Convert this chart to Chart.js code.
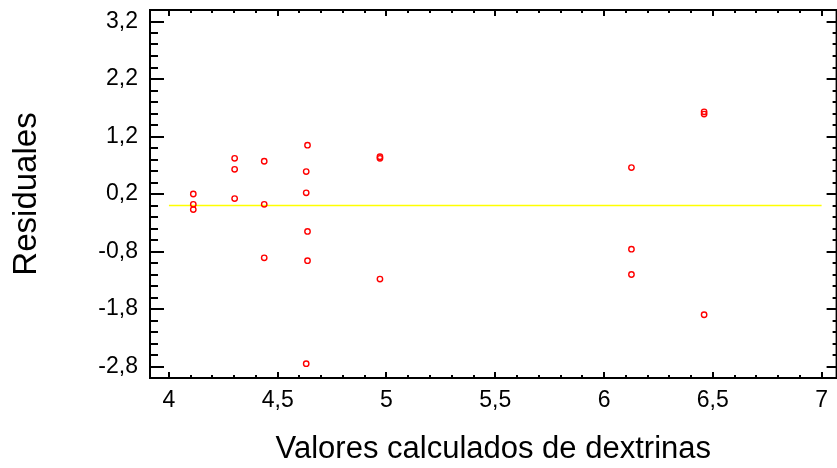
<!DOCTYPE html>
<html>
<head>
<meta charset="utf-8">
<title>Residuales</title>
<script src="https://cdn.jsdelivr.net/npm/chart.js@4.4.1/dist/chart.umd.min.js"></script>
<style>
  html, body { margin: 0; padding: 0; background: #fff; overflow: hidden; }
  #wrap { width: 837px; height: 468px; overflow: hidden; }
  canvas { display: block; }
</style>
</head>
<body>
<div id="wrap"><canvas id="chart" width="842" height="468"></canvas></div>
<script>
// fitted values vs. residuals
const fitted = [
  4.112, 4.112, 4.112,
  4.302, 4.302, 4.302,
  4.438, 4.438, 4.438,
  4.637, 4.631, 4.631, 4.637, 4.637, 4.631,
  4.970, 4.970, 4.970,
  6.126, 6.126, 6.126,
  6.460, 6.460, 6.460
];
const residuals = [
  0.20, 0.02, -0.07,
  0.82, 0.63, 0.12,
  0.77, 0.02, -0.91,
  1.05, 0.59, 0.22, -0.45, -0.96, -2.75,
  0.85, 0.82, -1.28,
  0.66, -0.76, -1.20,
  1.63, 1.59, -1.90
];
const xTicks = [4, 4.5, 5, 5.5, 6, 6.5, 7];
const yTicks = [-2.8, -1.8, -0.8, 0.2, 1.2, 2.2, 3.2];
const zeroLineX = [4, 7];

const FONT = "Arial, 'Liberation Sans', sans-serif";
const fmt = v => String(Math.round(v * 10) / 10).replace('.', ',');

// box around the plot with inward tick marks on all four sides
const frameTicks = {
  id: 'frameTicks',
  afterDraw(chart) {
    const { ctx, chartArea: a, scales: { x, y } } = chart;
    ctx.save();
    ctx.strokeStyle = '#000';
    ctx.lineWidth = 2;
    ctx.strokeRect(a.left, a.top, a.right - a.left, a.bottom - a.top);
    ctx.beginPath();
    for (let i = 0; i <= 30; i++) {
      const px = Math.round(x.getPixelForValue(4 + i * 0.1));
      const len = i % 5 === 0 ? 6 : 3;
      ctx.moveTo(px, a.bottom); ctx.lineTo(px, a.bottom - len);
      ctx.moveTo(px, a.top); ctx.lineTo(px, a.top + len);
    }
    for (let i = 0; i <= 32; i++) {
      const py = Math.round(y.getPixelForValue(-3 + i * 0.2));
      const major = (i - 1) % 5 === 0;
      ctx.moveTo(a.left, py); ctx.lineTo(a.left + (major ? 14 : 8), py);
      ctx.moveTo(a.right, py); ctx.lineTo(a.right - (major ? 10 : 4), py);
    }
    ctx.stroke();
    ctx.restore();
  }
};

new Chart(document.getElementById('chart'), {
  type: 'scatter',
  data: {
    datasets: [
      {
        type: 'line',
        data: zeroLineX.map(v => ({ x: v, y: 0 })),
        borderColor: '#ffff00',
        borderWidth: 1.5,
        pointRadius: 0,
        order: 2
      },
      {
        data: fitted.map((v, i) => ({ x: v, y: residuals[i] })),
        pointStyle: 'circle',
        pointRadius: 2.7,
        pointBorderWidth: 1.4,
        borderColor: '#ff0000',
        backgroundColor: 'rgba(0,0,0,0)',
        order: 1
      }
    ]
  },
  options: {
    responsive: false,
    animation: false,
    layout: { padding: { top: 10, left: 0, right: 3.5, bottom: 0 } },
    plugins: { legend: { display: false }, tooltip: { enabled: false } },
    scales: {
      x: {
        type: 'linear',
        min: 3.913,
        max: 7.069,
        afterBuildTicks: s => { s.ticks = xTicks.map(v => ({ value: v })); },
        afterFit: s => { s.height = 90; s.paddingLeft = 0; s.paddingRight = 0; },
        grid: { display: false, drawTicks: false },
        border: { display: false },
        ticks: {
          padding: 9,
          color: '#000',
          font: { family: FONT, size: 23 },
          maxRotation: 0,
          callback: v => fmt(v)
        },
        title: {
          display: true,
          text: 'Valores calculados de dextrinas',
          color: '#000',
          font: { family: FONT, size: 31 },
          padding: { top: 0, bottom: 0 }
        }
      },
      y: {
        type: 'linear',
        min: -3.0,
        max: 3.4,
        afterBuildTicks: s => { s.ticks = yTicks.map(v => ({ value: v })); },
        afterFit: s => { s.width = 150; s.paddingTop = 0; s.paddingBottom = 0; },
        grid: { display: false, drawTicks: false },
        border: { display: false },
        ticks: {
          padding: 12,
          color: '#000',
          font: { family: FONT, size: 23 },
          callback: v => fmt(v)
        },
        title: {
          display: true,
          text: 'Residuales',
          color: '#000',
          font: { family: FONT, size: 33 },
          padding: { top: 7, bottom: 0 }
        }
      }
    }
  },
  plugins: [frameTicks]
});
</script>
</body>
</html>
